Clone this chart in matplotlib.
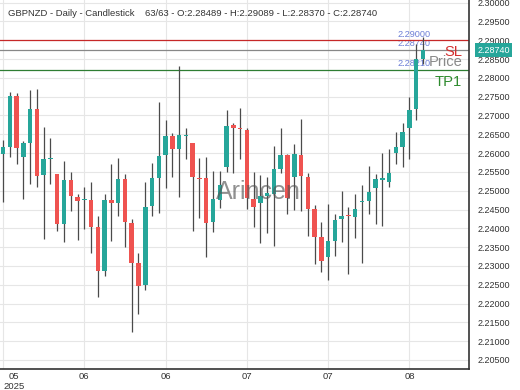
"""GBPNZD daily candlestick with SL / price / TP1 levels."""
import matplotlib
matplotlib.use("Agg")
import matplotlib.pyplot as plt
import numpy as np

plt.rcParams["font.family"] = ["Liberation Sans", "DejaVu Sans"]

# ---- data ----
opens = [2.25976, 2.26170, 2.27518, 2.25904, 2.26276, 2.27165, 2.25417, 2.25851, 2.25436, 2.24114,
         2.25284, 2.24840, 2.24744, 2.24752, 2.24042, 2.22863, 2.24752, 2.24664, 2.25303, 2.24132,
         2.23068, 2.22491, 2.24592, 2.25329, 2.25949, 2.26454, 2.26109, 2.26454, 2.26260, 2.25324,
         2.25329, 2.24159, 2.24752, 2.25622, 2.26747, 2.26649, 2.26614, 2.24771, 2.24664, 2.24858,
         2.24904, 2.25577, 2.25949, 2.25356, 2.25949, 2.25372, 2.24513, 2.23776, 2.23244, 2.23669,
         2.24239, 2.24334, 2.24308, 2.24691, 2.24733, 2.25063, 2.25297, 2.25239, 2.26010, 2.26170,
         2.26659, 2.27165, 2.28489]
highs = [2.26348, 2.27617, 2.27606, 2.26321, 2.27678, 2.27697, 2.26702, 2.26409, 2.25457, 2.25789,
         2.25489, 2.24912, 2.25106, 2.25223, 2.24326, 2.24912, 2.25702, 2.25877, 2.25436, 2.24239,
         2.23350, 2.25223, 2.25744, 2.27367, 2.26880, 2.26526, 2.28316, 2.26675, 2.26276, 2.25861,
         2.25904, 2.25531, 2.25523, 2.27146, 2.26792, 2.27207, 2.26659, 2.25489, 2.25417, 2.25356,
         2.26188, 2.26659, 2.25976, 2.26234, 2.26907, 2.25462, 2.24619, 2.24175, 2.24646, 2.24372,
         2.24991, 2.24574, 2.24912, 2.25151, 2.25656, 2.25444, 2.25994, 2.26101, 2.26569, 2.26792,
         2.27484, 2.28902, 2.29089]
lows = [2.24707, 2.25888, 2.25702, 2.24771, 2.25178, 2.25090, 2.23715, 2.25178, 2.23927, 2.23643,
        2.24467, 2.23688, 2.23981, 2.23350, 2.22164, 2.22730, 2.23669, 2.24326, 2.23510, 2.21249,
        2.21712, 2.22358, 2.24326, 2.24398, 2.25063, 2.25356, 2.24840, 2.25843, 2.23935, 2.24265,
        2.23228, 2.23909, 2.24547, 2.25505, 2.25478, 2.25835, 2.24505, 2.24042, 2.23600, 2.23882,
        2.23536, 2.25478, 2.24372, 2.24486, 2.24459, 2.23794, 2.23050, 2.22829, 2.22624, 2.23270,
        2.23643, 2.22784, 2.23733, 2.23068, 2.24372, 2.24114, 2.24060, 2.25090, 2.25710, 2.25622,
        2.25835, 2.26880, 2.28370]
closes = [2.26154, 2.27518, 2.26127, 2.26276, 2.27165, 2.25398, 2.25835, 2.25869, 2.24114, 2.25284,
          2.24858, 2.24733, 2.24787, 2.24042, 2.22863, 2.24752, 2.24664, 2.25311, 2.24159, 2.23068,
          2.22472, 2.24574, 2.25329, 2.25922, 2.26454, 2.26109, 2.26481, 2.26468, 2.25372, 2.25311,
          2.24132, 2.24771, 2.25151, 2.26728, 2.26659, 2.26633, 2.24797, 2.24558, 2.24858, 2.24938,
          2.25569, 2.25949, 2.24797, 2.25968, 2.25398, 2.24505, 2.23760, 2.23137, 2.23661, 2.24220,
          2.24334, 2.24318, 2.24513, 2.24717, 2.24973, 2.25303, 2.25319, 2.25478, 2.26154, 2.26569,
          2.27146, 2.28489, 2.28740]

tick_pos = [0, 12, 24, 36, 48, 60]
tick_labels = ["05\n2025", "06", "06", "07", "07", "08"]

sl_level = 2.29000
price_level = 2.28740
tp_level = 2.28210

C_UP = "#26a69a"
C_DN = "#ef5350"
C_WICK = "#4a4a4a"
C_GRID = "#e6e6e6"
C_LBL = "#6d7fd6"

fig = plt.figure(figsize=(5.2, 3.9), dpi=100)
ax = fig.add_axes([0.0, 21 / 390, 469 / 520, 369 / 390])
fig.patch.set_facecolor("white")

x = np.arange(len(opens))
o = np.array(opens)
c = np.array(closes)
up = c >= o
colors = np.where(up, C_UP, C_DN)

ax.vlines(x, lows, highs, color=C_WICK, lw=0.9, zorder=3)
body_lo = np.minimum(o, c)
body_h = np.maximum(np.abs(c - o), 0.00028)
ax.bar(x, body_h, bottom=body_lo, width=0.66, color=colors, lw=0, zorder=4)

ax.set_xlim(-0.45, 68.8)
ax.set_ylim(2.2026, 2.3007)

# grid
for yv in np.arange(2.205, 2.3001, 0.005):
    ax.axhline(yv, color=C_GRID, lw=0.8, zorder=0)
for xv in tick_pos:
    ax.axvline(xv, color=C_GRID, lw=0.8, zorder=0)

# level lines
ax.axhline(sl_level, color="#c62828", lw=0.9, zorder=2)
ax.axhline(price_level, color="#888888", lw=0.9, zorder=2)
ax.axhline(tp_level, color="#2e7d32", lw=0.9, zorder=2)

for lv in (sl_level, price_level, tp_level):
    ax.annotate(f"{lv:.5f}", (63.1, lv), xytext=(0, 1.2), textcoords="offset points",
                ha="right", va="bottom", fontsize=6.6, color=C_LBL, zorder=1)

for lv, txt, col in ((sl_level, "SL", "#d32f2f"),
                     (price_level, "Price", "#8a8a8a"),
                     (tp_level, "TP1", "#2e8b2e")):
    ax.annotate(txt, (67.8, lv), xytext=(0, -3.4), textcoords="offset points",
                ha="right", va="top", fontsize=10.6, color=col, zorder=6)

# watermark
ax.text(0.55, 0.48, "Arincen", transform=ax.transAxes, ha="center", va="center",
        fontsize=18, color="#555555", alpha=0.65, zorder=7)

# title line
ax.text(8 / 469, 1 - 13 / 369, "GBPNZD - Daily - Candlestick    63/63 - O:2.28489 - H:2.29089 - L:2.28370 - C:2.28740",
        transform=ax.transAxes, ha="left", va="center", fontsize=6.8, color="#333333", zorder=8)

# axes styling
for s in ("top", "left"):
    ax.spines[s].set_visible(False)
for s in ("right", "bottom"):
    ax.spines[s].set_color("#333333")
    ax.spines[s].set_linewidth(1.2)

ax.yaxis.tick_right()
ax.set_yticks(np.arange(2.205, 2.3001, 0.005))
ax.set_yticklabels([f"{v:.5f}" for v in np.arange(2.205, 2.3001, 0.005)])
ax.tick_params(axis="y", length=0, pad=6, labelsize=6.5, labelcolor="#333333")
ax.set_xticks(tick_pos)
ax.set_xticklabels(tick_labels)
ax.tick_params(axis="x", length=0, pad=2, labelsize=6.8, labelcolor="#333333")
first = ax.get_xticklabels()[0]
first.set_horizontalalignment("left")
first.set_multialignment("center")

# current price tag
ax.annotate(f"{price_level:.5f}", (1.0, price_level), xycoords=("axes fraction", "data"),
            xytext=(6, 0), textcoords="offset points", ha="left", va="center",
            fontsize=6.5, color="white", zorder=9, annotation_clip=False,
            bbox=dict(boxstyle="square,pad=0.25", fc=C_UP, ec="none"))

fig.savefig("out.png", dpi=100, facecolor="white")
